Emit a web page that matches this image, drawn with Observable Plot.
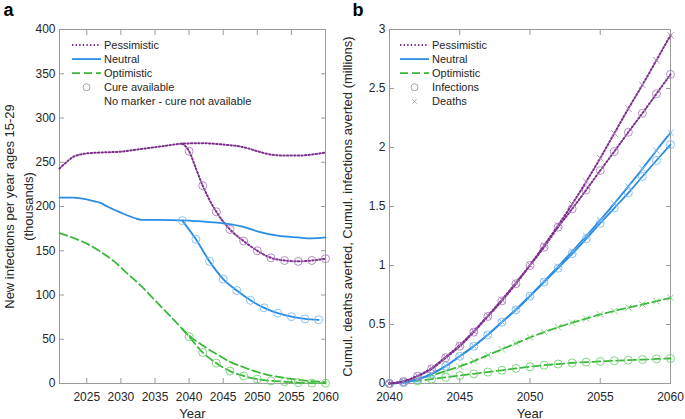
<!DOCTYPE html>
<html><head><meta charset="utf-8">
<script src="https://cdn.jsdelivr.net/npm/d3@7"></script>
<script src="https://cdn.jsdelivr.net/npm/@observablehq/plot@0.6"></script>
<style>
body{margin:0;background:#fff;}
#wrap{position:relative;width:685px;height:419px;font-family:"Liberation Sans",Arial,sans-serif;}
.panel{position:absolute;top:0;}
.overlay{position:absolute;top:0;left:0;pointer-events:none;}
</style></head><body>
<div id="wrap"></div>
<script>
// ---------- Panel a data (thousands of new infections per year, ages 15-29) ----------
const xTicksA = [2025, 2030, 2035, 2040, 2045, 2050, 2055, 2060];
const yTicksA = [0, 50, 100, 150, 200, 250, 300, 350, 400];

const pessNoCureYears = [2021,2022,2023,2025,2027,2030,2033,2036,2039,2042,2045,2048,2050,2052,2054,2056,2058,2060];
const pessNoCure      = [243,250,256,260,261,262,265,268,271,271.5,270,267,262.5,258.7,257.6,257.6,258.7,261];
const pessCureYears   = [2039,2040,2041,2042,2044,2046,2048,2050,2052,2054,2056,2058,2060];
const pessCure        = [271,262.5,243,223.5,194,174,161,150,142,139,138,139,141];
const pessCureMarkYears = [2040,2042,2044,2046,2048,2050,2052,2054,2056,2058,2060];

const neutNoCureYears = [2021,2023,2025,2026,2027,2028,2030,2032,2033,2035,2040,2045,2048,2050,2053,2056,2058,2060];
const neutNoCure      = [210,210,208,206,204,200,193,187,185,185,184,181,177,172,167,165,164,165];
const neutCureYears   = [2039,2041,2043,2045,2047,2049,2051,2053,2055,2057,2059];
const neutCure        = [184,163,138,118,105,94,85.5,79.5,75.5,73,72];
const neutCureMarkYears = [2039,2041,2043,2045,2047,2049,2051,2053,2055,2057,2059];

const optNoCureYears  = [2021,2023,2025,2027,2029,2031,2033,2035,2038,2040,2042,2044,2046,2048,2050,2052,2054,2056,2058,2060];
const optNoCure       = [170,164.5,158,149,138,124,110,94,70,54,43,33.4,24.5,18.4,13,9,6.4,4.2,2.6,1.5];
const optCureYears    = [2039,2040,2042,2044,2046,2048,2050,2052,2054,2056,2058,2060];
const optCure         = [62,53,35,23,14,8.5,5,3,2,1,0.5,0.3];
const optCureMarkYears = [2040,2042,2044,2046,2048,2050,2052,2054,2056,2058,2060];

// ---------- Panel b data (millions, cumulative averted) ----------
const xTicksB = [2040, 2045, 2050, 2055, 2060];
const yTicksB = [0, 0.5, 1, 1.5, 2, 2.5, 3];
const yearsB = [2040,2041,2042,2043,2044,2045,2046,2047,2048,2049,2050,2051,2052,2053,2054,2055,2056,2057,2058,2059,2060];
const pessInf   = [0,0.017,0.062,0.124,0.218,0.316,0.435,0.568,0.70,0.845,1.0,1.155,1.325,1.48,1.64,1.805,1.966,2.13,2.29,2.455,2.62];
const pessDeath = [0,0.02,0.065,0.13,0.225,0.325,0.445,0.575,0.71,0.855,1.005,1.17,1.34,1.52,1.71,1.91,2.12,2.33,2.53,2.74,2.95];
const neutInf   = [0,0.008,0.034,0.082,0.147,0.231,0.316,0.412,0.52,0.624,0.74,0.859,0.977,1.099,1.226,1.358,1.487,1.616,1.754,1.89,2.025];
const neutDeath = [0,0.009,0.035,0.083,0.148,0.232,0.318,0.414,0.522,0.628,0.745,0.865,0.99,1.12,1.25,1.385,1.525,1.67,1.82,1.975,2.125];
const optInf    = [0,0.008,0.022,0.037,0.052,0.067,0.082,0.097,0.112,0.128,0.142,0.155,0.165,0.174,0.181,0.187,0.193,0.198,0.203,0.208,0.212];
const optDeath  = [0,0.012,0.037,0.07,0.105,0.145,0.19,0.24,0.29,0.34,0.39,0.435,0.477,0.515,0.55,0.585,0.615,0.643,0.67,0.698,0.726];

// ---------- styles ----------
const font = '"Liberation Sans", Arial, Helvetica, sans-serif';
const colPess = "#7e2f8e", colNeut = "#2a8de4", colOpt = "#39b839";
const mkPess = "#b07fbf", mkNeut = "#7cbdf0", mkOpt = "#74d074";
const axisGrey = "#9a9a9a", textCol = "#262626";
const dotted = "1.4,2.2", dashed = "8,4";

const pts = (xs, ys) => xs.map((x, i) => ({x, y: ys[i]}));
const pick = (xs, ys, keep) => pts(xs, ys).filter(d => keep.includes(d.x));

function axes(xT, yT, yFmt, tickPadX, tickPadY) {
  return [
    Plot.frame({stroke: axisGrey}),
    Plot.axisX(xT, {anchor: "bottom", tickSize: -5, tickPadding: tickPadX, stroke: axisGrey, fill: textCol, fontSize: 12, tickFormat: d => String(d), label: null}),
    Plot.axisX(xT, {anchor: "top", tickSize: -5, stroke: axisGrey, tickFormat: () => "", label: null}),
    Plot.axisY(yT, {anchor: "left", tickSize: -5, tickPadding: tickPadY, stroke: axisGrey, fill: textCol, fontSize: 12, tickFormat: yFmt, label: null}),
    Plot.axisY(yT, {anchor: "right", tickSize: -5, stroke: axisGrey, tickFormat: () => "", label: null})
  ];
}

const lineOpts = (stroke, dash) => ({x: "x", y: "y", stroke, strokeWidth: dash === dotted ? 2 : 1.8, strokeDasharray: dash, curve: "monotone-x"});
const circ = (stroke) => ({x: "x", y: "y", r: 4, stroke, strokeWidth: 0.9, fill: "none"});
const cross = (stroke) => ({x: "x", y: "y", r: 3, symbol: "times", stroke, strokeWidth: 0.9});

// ---------- Panel a ----------
const plotA = Plot.plot({
  width: 340, height: 419, marginLeft: 59, marginRight: 15, marginTop: 29, marginBottom: 36,
  style: {fontFamily: font, fontSize: "12px", color: textCol, background: "white", overflow: "visible"},
  x: {domain: [2021, 2060]},
  y: {domain: [0, 400]},
  marks: [
    ...axes(xTicksA, yTicksA, d => String(d), 14, 9),
    Plot.line(pts(pessNoCureYears, pessNoCure), lineOpts(colPess, dotted)),
    Plot.line(pts(pessCureYears, pessCure), lineOpts(colPess, dotted)),
    Plot.dot(pick(pessCureYears, pessCure, pessCureMarkYears), circ(mkPess)),
    Plot.line(pts(neutNoCureYears, neutNoCure), lineOpts(colNeut, null)),
    Plot.line(pts(neutCureYears, neutCure), lineOpts(colNeut, null)),
    Plot.dot(pick(neutCureYears, neutCure, neutCureMarkYears), circ(mkNeut)),
    Plot.line(pts(optNoCureYears, optNoCure), lineOpts(colOpt, dashed)),
    Plot.line(pts(optCureYears, optCure), lineOpts(colOpt, dashed)),
    Plot.dot(pick(optCureYears, optCure, optCureMarkYears), circ(mkOpt)),
    Plot.text(["Year"], {frameAnchor: "bottom", dy: 34, lineAnchor: "bottom", fontSize: 13, fill: textCol}),
    Plot.text(["New infections per year ages 15-29\n(thousands)"], {frameAnchor: "left", rotate: -90, dx: -42, lineAnchor: "middle", textAnchor: "middle", lineHeight: 1.42, fontSize: 13, fill: textCol}),
    Plot.text(["a"], {frameAnchor: "top-left", dx: -56, dy: -14, lineAnchor: "bottom", textAnchor: "start", fontWeight: "bold", fontSize: 18, fill: "#000"})
  ]
});

// ---------- Panel b ----------
const plotB = Plot.plot({
  width: 345, height: 419, marginLeft: 49, marginRight: 15, marginTop: 29, marginBottom: 36,
  style: {fontFamily: font, fontSize: "12px", color: textCol, background: "white", overflow: "visible"},
  x: {domain: [2040, 2060]},
  y: {domain: [0, 3]},
  marks: [
    ...axes(xTicksB, yTicksB, d => String(d), 14, 9),
    Plot.line(pts(yearsB, optInf), lineOpts(colOpt, dashed)),
    Plot.dot(pts(yearsB, optInf), circ(mkOpt)),
    Plot.line(pts(yearsB, optDeath), lineOpts(colOpt, dashed)),
    Plot.dot(pts(yearsB, optDeath), cross(mkOpt)),
    Plot.line(pts(yearsB, neutInf), lineOpts(colNeut, null)),
    Plot.dot(pts(yearsB, neutInf), circ(mkNeut)),
    Plot.line(pts(yearsB, neutDeath), lineOpts(colNeut, null)),
    Plot.dot(pts(yearsB, neutDeath), cross(mkNeut)),
    Plot.line(pts(yearsB, pessInf), lineOpts(colPess, dotted)),
    Plot.dot(pts(yearsB, pessInf), circ(mkPess)),
    Plot.line(pts(yearsB, pessDeath), lineOpts(colPess, dotted)),
    Plot.dot(pts(yearsB, pessDeath), cross(mkPess)),
    Plot.text(["Year"], {frameAnchor: "bottom", dy: 34, lineAnchor: "bottom", fontSize: 13, fill: textCol}),
    Plot.text(["Cumul. deaths averted, Cumul. infections averted (millions)"], {frameAnchor: "left", rotate: -90, dx: -42, lineAnchor: "middle", textAnchor: "middle", fontSize: 13, fill: textCol}),
    Plot.text(["b"], {frameAnchor: "top-left", dx: -37, dy: -14, lineAnchor: "bottom", textAnchor: "start", fontWeight: "bold", fontSize: 18, fill: "#000"})
  ]
});

const wrap = document.getElementById("wrap");
const pa = document.createElement("div"); pa.className = "panel"; pa.style.left = "0px"; pa.appendChild(plotA);
const pb = document.createElement("div"); pb.className = "panel"; pb.style.left = "340px"; pb.appendChild(plotB);
wrap.appendChild(pa); wrap.appendChild(pb);

// ---------- Legends (overlay) ----------
const legendA = [
  {label: "Pessimistic", type: "line", stroke: colPess, dash: dotted},
  {label: "Neutral", type: "line", stroke: colNeut, dash: null},
  {label: "Optimistic", type: "line", stroke: colOpt, dash: dashed},
  {label: "Cure available", type: "circle"},
  {label: "No marker - cure not available", type: "none"}
];
const legendB = [
  {label: "Pessimistic", type: "line", stroke: colPess, dash: dotted},
  {label: "Neutral", type: "line", stroke: colNeut, dash: null},
  {label: "Optimistic", type: "line", stroke: colOpt, dash: dashed},
  {label: "Infections", type: "circle"},
  {label: "Deaths", type: "cross"}
];
const ov = d3.select(wrap).append("svg").attr("class", "overlay").attr("width", 685).attr("height", 419);
function drawLegend(items, x0, x1, xt) {
  const g = ov.append("g").style("font-family", font).style("font-size", "11px");
  items.forEach((it, i) => {
    const y = 45 + i * 14.1;
    if (it.type === "line") {
      g.append("line").attr("x1", x0).attr("x2", x1).attr("y1", y).attr("y2", y)
        .attr("stroke", it.stroke).attr("stroke-width", it.dash === dotted ? 2 : 1.8).attr("stroke-dasharray", it.dash);
    } else if (it.type === "circle") {
      g.append("circle").attr("cx", (x0 + x1) / 2).attr("cy", y).attr("r", 3.5).attr("fill", "none").attr("stroke", "#9a9a9a").attr("stroke-width", 0.9);
    } else if (it.type === "cross") {
      const c = (x0 + x1) / 2, s = 2.2;
      g.append("path").attr("d", `M${c - s},${y - s}L${c + s},${y + s}M${c - s},${y + s}L${c + s},${y - s}`).attr("stroke", "#9a9a9a").attr("stroke-width", 0.9);
    }
    g.append("text").attr("x", xt).attr("y", y).attr("dy", "0.35em").attr("fill", textCol).text(it.label);
  });
}
drawLegend(legendA, 72, 101, 104);
drawLegend(legendB, 400, 429, 432);
</script>
</body></html>
